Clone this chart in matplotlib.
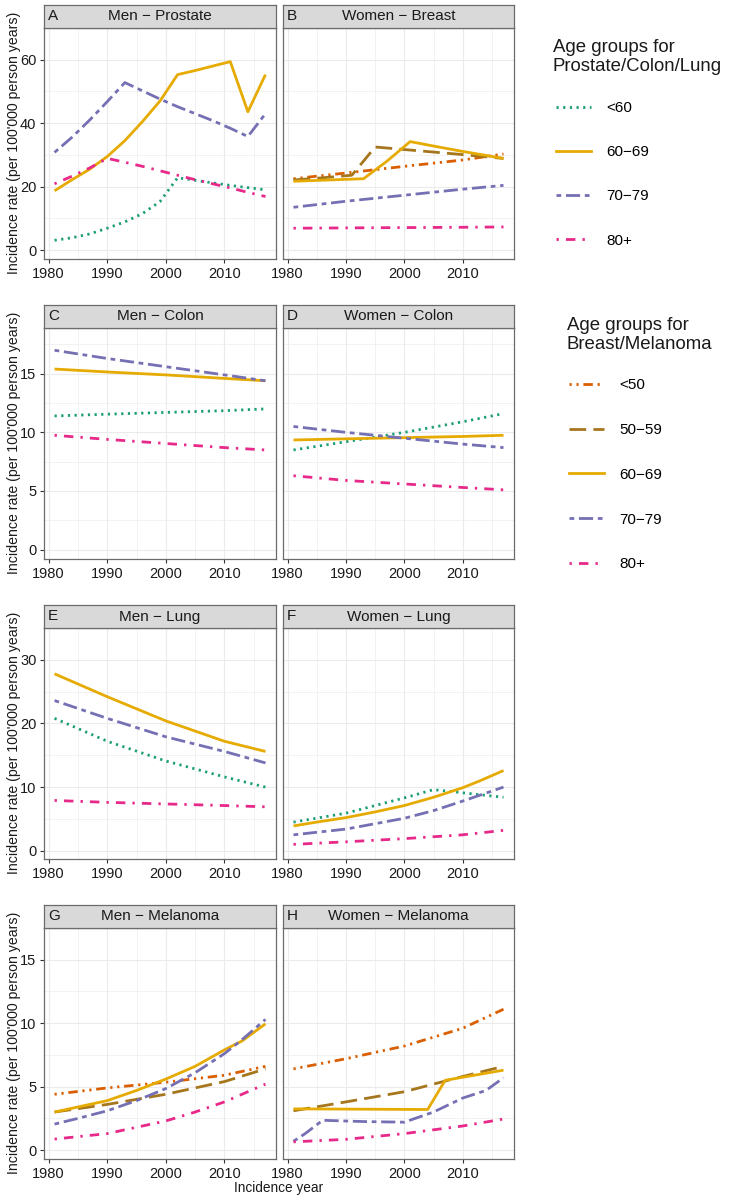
import numpy as np
import matplotlib.pyplot as plt
from matplotlib.lines import Line2D

plt.rcParams['font.family'] = ['Liberation Sans', 'DejaVu Sans']

# --- dane ---
yrs = [1981, 1984, 1987, 1990, 1993, 1996, 1999, 2002, 2005, 2008, 2011, 2014, 2017]
dec = [1981, 1990, 2000, 2010, 2017]

# A: Men - Prostate
pr_lt60 = [3.1, 3.9, 5.1, 6.9, 8.9, 11.5, 15.3, 22.8, 22.0, 21.2, 20.4, 19.7, 19.0]
pr_6069 = [18.7, 22.2, 25.5, 29.5, 34.5, 40.5, 47.0, 55.3, 56.6, 58.0, 59.4, 43.6, 55.3]
pr_7079 = [30.8, 35.6, 41.0, 46.8, 52.8, 50.2, 47.6, 45.2, 43.0, 40.8, 38.4, 35.8, 43.0]
pr_80 = [20.9, 23.3, 25.9, 28.9, 27.7, 26.4, 25.0, 23.6, 22.2, 20.9, 19.6, 18.2, 16.9]

# B: Women - Breast
br_lt50 = [22.5, 24.3, 26.4, 28.4, 30.3]
br_5059_yr = [1981, 1986, 1991, 1995, 2000, 2005, 2010, 2017]
br_5059 = [22.1, 22.8, 23.6, 32.5, 31.7, 30.9, 30.1, 28.9]
br_6069_yr = [1981, 1987, 1993, 1997, 2001, 2005, 2010, 2017]
br_6069 = [21.7, 22.1, 22.5, 28.0, 34.2, 32.8, 31.1, 28.9]
br_7079 = [13.5, 15.4, 17.3, 19.2, 20.4]
br_80 = [6.9, 7.0, 7.1, 7.2, 7.3]

# C: Men - Colon
com_lt60 = [11.4, 11.55, 11.7, 11.85, 12.0]
com_6069 = [15.4, 15.15, 14.9, 14.6, 14.4]
com_7079 = [17.0, 16.3, 15.6, 14.9, 14.4]
com_80 = [9.75, 9.4, 9.05, 8.7, 8.5]

# D: Women - Colon
cof_lt60 = [8.5, 9.2, 10.0, 10.9, 11.6]
cof_6069 = [9.35, 9.45, 9.55, 9.65, 9.75]
cof_7079 = [10.5, 10.0, 9.5, 9.0, 8.7]
cof_80 = [6.3, 5.9, 5.6, 5.3, 5.1]

# E: Men - Lung
lum_lt60 = [20.8, 17.2, 14.1, 11.6, 10.0]
lum_6069 = [27.8, 24.2, 20.4, 17.2, 15.6]
lum_7079 = [23.6, 20.8, 17.9, 15.6, 13.8]
lum_80 = [7.9, 7.6, 7.35, 7.1, 6.9]

# F: Women - Lung
luf_lt60_yr = [1981, 1990, 2000, 2005, 2010, 2017]
luf_lt60 = [4.5, 5.9, 8.3, 9.6, 9.1, 8.4]
luf_6069_yr = [1981, 1985, 1990, 1995, 2000, 2005, 2010, 2013, 2017]
luf_6069 = [3.9, 4.5, 5.2, 6.1, 7.1, 8.4, 9.9, 11.0, 12.6]
luf_7079_yr = [1981, 1990, 2000, 2005, 2010, 2017]
luf_7079 = [2.5, 3.4, 5.1, 6.3, 7.8, 10.0]
luf_80 = [1.0, 1.4, 1.9, 2.5, 3.2]

# G: Men - Melanoma
mem_lt50 = [4.4, 4.9, 5.35, 5.9, 6.6]
mem_5059 = [3.0, 3.6, 4.4, 5.4, 6.4]
mem_yr = [1981, 1985, 1990, 1995, 2000, 2005, 2010, 2013, 2017]
mem_6069 = [3.0, 3.4, 3.9, 4.7, 5.6, 6.6, 7.9, 8.6, 9.95]
mem_7079 = [2.05, 2.5, 3.1, 3.9, 4.85, 6.1, 7.6, 8.7, 10.3]
mem_80_yr = [1981, 1990, 2000, 2005, 2010, 2017]
mem_80 = [0.87, 1.3, 2.3, 3.0, 3.8, 5.2]

# H: Women - Melanoma
mef_lt50 = [6.4, 7.2, 8.2, 9.6, 11.1]
mef_5059 = [3.1, 3.8, 4.6, 5.8, 6.6]
mef_6069_yr = [1981, 2004, 2007, 2017]
mef_6069 = [3.25, 3.2, 5.5, 6.3]
mef_7079_yr = [1981, 1983, 1986, 1993, 2000, 2005, 2010, 2014, 2017]
mef_7079 = [0.7, 1.3, 2.35, 2.25, 2.2, 3.0, 4.1, 4.7, 5.7]
mef_80 = [0.65, 0.85, 1.3, 1.9, 2.45]

panels = [
    ('A', 'Men − Prostate', [('<60', yrs, pr_lt60), ('60−69', yrs, pr_6069),
                             ('70−79', yrs, pr_7079), ('80+', yrs, pr_80)]),
    ('B', 'Women − Breast', [('<50', dec, br_lt50), ('50−59', br_5059_yr, br_5059),
                             ('60−69', br_6069_yr, br_6069), ('70−79', dec, br_7079),
                             ('80+', dec, br_80)]),
    ('C', 'Men − Colon', [('<60', dec, com_lt60), ('60−69', dec, com_6069),
                          ('70−79', dec, com_7079), ('80+', dec, com_80)]),
    ('D', 'Women − Colon', [('<60', dec, cof_lt60), ('60−69', dec, cof_6069),
                            ('70−79', dec, cof_7079), ('80+', dec, cof_80)]),
    ('E', 'Men − Lung', [('<60', dec, lum_lt60), ('60−69', dec, lum_6069),
                         ('70−79', dec, lum_7079), ('80+', dec, lum_80)]),
    ('F', 'Women − Lung', [('<60', luf_lt60_yr, luf_lt60), ('60−69', luf_6069_yr, luf_6069),
                           ('70−79', luf_7079_yr, luf_7079), ('80+', dec, luf_80)]),
    ('G', 'Men − Melanoma', [('<50', dec, mem_lt50), ('50−59', dec, mem_5059),
                             ('60−69', mem_yr, mem_6069), ('70−79', mem_yr, mem_7079),
                             ('80+', mem_80_yr, mem_80)]),
    ('H', 'Women − Melanoma', [('<50', dec, mef_lt50), ('50−59', dec, mef_5059),
                               ('60−69', mef_6069_yr, mef_6069), ('70−79', mef_7079_yr, mef_7079),
                               ('80+', dec, mef_80)]),
]

ylims = [(-2.8, 68), (-0.8, 18.9), (-1.3, 31.5), (-0.7, 15.8)]
yticks = [[0, 20, 40, 60], [0, 5, 10, 15], [0, 10, 20, 30], [0, 5, 10, 15]]

# kolor, styl linii dla grup wiekowych
styl = {
    '<60': ('#1B9E77', (0, (0.8, 1.6))),
    '<50': ('#D95F02', (0, (0.8, 1.7, 0.8, 1.7, 3.4, 1.7))),
    '50−59': ('#A6761D', (0, (6.0, 2.6))),
    '60−69': ('#E6AB02', '-'),
    '70−79': ('#7570B3', (0, (1.7, 1.7, 5.1, 1.7))),
    '80+': ('#E7298A', (0, (0.85, 2.55, 3.4, 2.55))),
}
LW = 2.0
RAMKA = '#6b6b6b'
TXT = '#1a1a1a'

W, H = 737, 1200
fig = plt.figure(figsize=(W / 100, H / 100), dpi=100)


def px(x0, y0, x1, y1):
    return [x0 / W, 1 - y1 / H, (x1 - x0) / W, (y1 - y0) / H]


lewe = [(44, 276), (283, 514)]

for i, (lit, tytul, serie) in enumerate(panels):
    r, c = i // 2, i % 2
    x0, x1 = lewe[c]
    top = 28 + 300 * r
    ax = fig.add_axes(px(x0, top, x1, top + 231))
    for nazwa, xs, ys in serie:
        kol, ls = styl[nazwa]
        ax.plot(xs, ys, color=kol, ls=ls, lw=LW, solid_capstyle='butt')
    ax.set_xlim(1979.2, 2018.8)
    ax.set_ylim(*ylims[r])
    ax.set_xticks([1980, 1990, 2000, 2010])
    ax.set_xticks([1985, 1995, 2005, 2015], minor=True)
    yt = yticks[r]
    ax.set_yticks(yt)
    st = yt[1] - yt[0]
    ax.set_yticks([v + st / 2 for v in yt], minor=True)
    ax.grid(which='major', color='#EBEBEB', lw=0.8)
    ax.grid(which='minor', color='#EBEBEB', lw=0.45)
    ax.set_axisbelow(True)
    ax.tick_params(which='major', length=3, width=0.8, color='#333333',
                   labelsize=10.5, labelcolor=TXT, pad=2.5)
    ax.tick_params(which='minor', length=0)
    if c == 1:
        ax.tick_params(axis='y', which='both', left=False, labelleft=False)
    for s in ax.spines.values():
        s.set_color(RAMKA)
        s.set_linewidth(0.9)

    # pasek z tytułem panelu
    sa = fig.add_axes(px(x0, top - 23, x1, top))
    sa.set_facecolor('#D9D9D9')
    sa.set_xticks([])
    sa.set_yticks([])
    for s in sa.spines.values():
        s.set_color(RAMKA)
        s.set_linewidth(0.9)
    sa.text(4 / (x1 - x0), 0.5, lit, transform=sa.transAxes, ha='left', va='center',
            fontsize=11, color=TXT)
    sa.text(0.5, 0.5, tytul, transform=sa.transAxes, ha='center', va='center',
            fontsize=11, color=TXT)

    if c == 0:
        fig.text(14 / W, 1 - (top + 115) / H, "Incidence rate (per 100'000 person years)",
                 rotation=90, ha='center', va='center', fontsize=10.2, color=TXT)

fig.text(279 / W, 1 - 1188 / H, 'Incidence year', ha='center', va='center',
         fontsize=9.8, color=TXT)


def uchwyty(grupy):
    return [Line2D([], [], color=styl[g][0], ls=styl[g][1], lw=LW) for g in grupy]


g1 = ['<60', '60−69', '70−79', '80+']
g2 = ['<50', '50−59', '60−69', '70−79', '80+']

fig.text(553 / W, 1 - 57 / H, 'Age groups for\nProstate/Colon/Lung', ha='left', va='center',
         fontsize=13.4, color=TXT)
fig.legend(uchwyty(g1), g1, loc='upper left', bbox_to_anchor=(556 / W, 1 - 101 / H),
           frameon=False, fontsize=11, labelspacing=1.98, handlelength=2.3,
           handletextpad=1.0, borderpad=0, borderaxespad=0)

fig.text(567 / W, 1 - 335 / H, 'Age groups for\nBreast/Melanoma', ha='left', va='center',
         fontsize=13.4, color=TXT)
fig.legend(uchwyty(g2), g2, loc='upper left', bbox_to_anchor=(569 / W, 1 - 378 / H),
           frameon=False, fontsize=11, labelspacing=2.02, handlelength=2.3,
           handletextpad=1.0, borderpad=0, borderaxespad=0)

fig.savefig('out.png', dpi=100)
